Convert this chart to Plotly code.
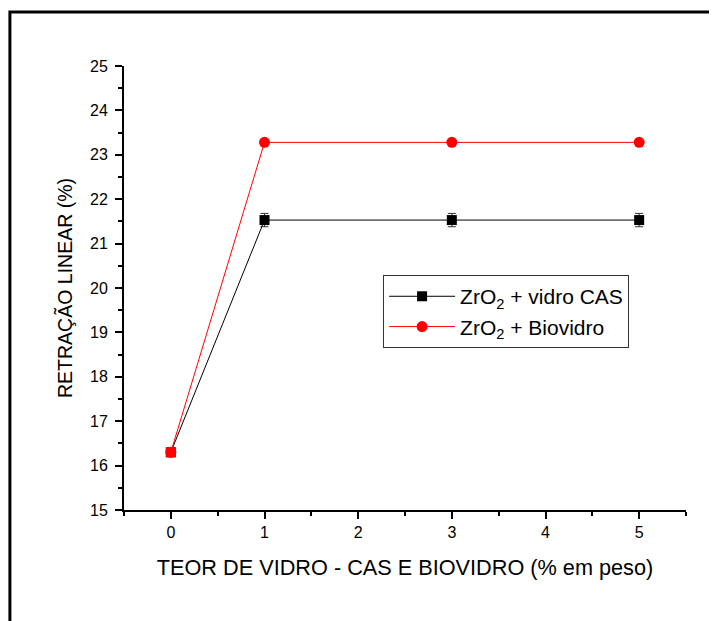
import plotly.graph_objects as go

teor = [0, 1, 3, 5]
cas = [16.3, 21.53, 21.53, 21.53]
cas_err = [0.05, 0.15, 0.15, 0.15]
bio = [16.3, 23.28, 23.28, 23.28]

fnt = "Liberation Sans, Arial, sans-serif"

fig = go.Figure()
fig.add_trace(go.Scatter(
    x=teor, y=cas, mode="lines+markers", name="ZrO<sub>2</sub> + vidro CAS",
    line=dict(color="black", width=1),
    marker=dict(symbol="square", size=10, color="black"),
    error_y=dict(type="data", array=cas_err, color="#333333", thickness=1, width=4),
))
fig.add_trace(go.Scatter(
    x=teor, y=bio, mode="lines+markers", name="ZrO<sub>2</sub> + Biovidro",
    line=dict(color="red", width=1),
    marker=dict(symbol="circle", size=11, color="red"),
))
# the first red point is drawn as a square in the original
fig.add_trace(go.Scatter(
    x=teor[:1], y=bio[:1], mode="markers", showlegend=False,
    marker=dict(symbol="square", size=10, color="red"),
))

axis_common = dict(
    showline=True, linecolor="black", linewidth=2, showgrid=False, zeroline=False,
    ticks="outside", ticklen=7, tickwidth=2, tickcolor="black",
    tickfont=dict(family=fnt, size=16, color="black"),
    minor=dict(ticks="outside", ticklen=4, tickwidth=2, tickcolor="black"),
)

fig.update_xaxes(range=[-0.5, 5.5], dtick=1, tick0=0, minor_dtick=0.5,
                 title=dict(text="TEOR DE VIDRO - CAS E BIOVIDRO (% em peso)",
                            font=dict(family=fnt, size=21.7, color="black"), standoff=20),
                 **axis_common)
fig.update_yaxes(range=[15, 25], dtick=1, tick0=15, minor_dtick=0.5,
                 ticklabelstandoff=4,
                 title=dict(text="RETRAÇÃO LINEAR (%)",
                            font=dict(family=fnt, size=19.5, color="black"), standoff=12),
                 **axis_common)

# outer frame of the original figure (cut off at right and bottom)
fig.add_shape(type="rect", xref="paper", yref="paper",
              x0=-0.203, x1=1.08, y0=-0.28, y1=1.1216,
              line=dict(color="black", width=3), fillcolor="rgba(0,0,0,0)")

fig.update_layout(
    width=709, height=613,
    margin=dict(l=116, r=31, t=58, b=111),
    paper_bgcolor="white", plot_bgcolor="white",
    font=dict(family=fnt, color="black"),
    showlegend=True,
    legend=dict(x=0.461, y=0.529, xanchor="left", yanchor="top",
                bordercolor="#333333", borderwidth=1, bgcolor="white",
                font=dict(family=fnt, size=21, color="black"),
                itemwidth=66, tracegroupgap=0),
)

fig.write_html("out.html")
